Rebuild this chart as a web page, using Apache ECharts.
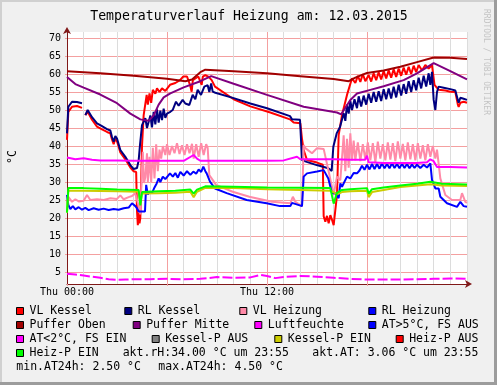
<!DOCTYPE html>
<html><head><meta charset="utf-8">
<script src="https://cdn.jsdelivr.net/npm/echarts@6/dist/echarts.min.js"></script>
<style>html,body{margin:0;padding:0;background:#f0f0f0}#c{width:497px;height:385px}</style>
</head><body><div id="c"></div>
<script>
// ---- data (hour of day, value) ----
const titleText = 'Temperaturverlauf Heizung am: 12.03.2015';
const yAxisTitle = '°C';
const xTickHours = [0, 12];
const xTickText = ['Thu 00:00', 'Thu 12:00'];

const vlKessel = [[0,41.7],[0.08,49.5],[0.3,50.9],[0.6,51.1],[0.9,50.6],[1.0,'-'],[1.1,48.6],[1.24,49.5],[1.5,47.3],[1.8,45.4],[2.1,44.6],[2.4,43.9],[2.6,43.5],[2.7,41.8],[2.8,40.5],[2.9,42.0],[3.0,41.3],[3.2,38.2],[3.5,36.3],[3.8,34.0],[4.0,33.0],[4.15,32.8],[4.2,22],[4.25,18],[4.3,21.5],[4.35,18.5],[4.4,20],[4.5,40],[4.6,48.6],[4.78,54.2],[4.85,51.5],[4.95,54.6],[5.05,52.0],[5.15,55.6],[5.3,54.5],[5.4,56.0],[5.55,55.0],[5.7,56.0],[5.9,55.3],[6.18,57.0],[6.5,57.5],[6.78,58.3],[6.98,59.3],[7.2,59.3],[7.38,57.0],[7.48,55.1],[7.55,58.3],[7.88,59.3],[8.08,57.0],[8.15,59.3],[8.3,59.7],[8.5,59.2],[8.68,58.3],[8.88,56.5],[10,53.0],[11,51.0],[12.2,49.3],[13.38,47.4],[13.6,46.5],[14.0,46.3],[14.1,42],[14.2,38.9],[14.4,36.1],[15.0,35.4],[15.35,34.8],[15.4,20.5],[15.5,19.0],[15.6,20.6],[15.7,18.5],[15.8,20.8],[15.9,19.5],[16.0,18.0],[16.1,18.3],[16.2,26.4],[16.3,43],[16.5,48.6],[16.8,54.2],[17.1,58.8],[17.3,57.5],[17.45,59.5],[17.6,57.8],[17.75,60.0],[17.9,58.0],[18.1,59.7],[18.25,57.9],[18.4,60.2],[18.55,58.3],[18.7,60.5],[18.85,58.5],[19.0,60.8],[19.15,58.8],[19.3,61.0],[19.45,59.0],[19.6,61.3],[19.75,59.2],[19.9,61.5],[20.05,59.5],[20.2,61.8],[20.35,59.8],[20.5,62.0],[20.65,60.0],[20.8,62.3],[20.95,60.5],[21.1,62.5],[21.3,61.0],[21.5,62.5],[21.7,61.5],[21.9,62.5],[22.05,57.0],[22.3,55.6],[22.7,55.4],[23.0,55.1],[23.3,55.0],[23.45,51.5],[23.5,50.9],[23.6,52.0],[23.8,52.3],[24,52.0]];

const rlKessel = [[0,43.5],[0.08,50.9],[0.3,52.3],[0.6,52.2],[0.9,51.9],[1.0,'-'],[1.1,48.6],[1.24,50.0],[1.5,48.0],[1.8,46.3],[2.1,45.5],[2.4,44.7],[2.6,44.3],[2.7,42.5],[2.8,41.2],[2.9,42.8],[3.0,42.1],[3.2,38.9],[3.5,37.0],[3.8,34.7],[4.0,33.6],[4.1,33.3],[4.2,33.9],[4.3,36],[4.38,40.3],[4.5,45.8],[4.7,47.7],[4.8,45],[4.9,44.9],[5.0,48.5],[5.1,45.2],[5.2,49.5],[5.3,46.0],[5.4,50.2],[5.5,46.5],[5.6,49.8],[5.7,47.2],[5.8,50.4],[5.9,47.8],[6.0,49.0],[6.2,49.5],[6.34,50.0],[6.54,52.3],[6.7,51.2],[6.94,52.8],[7.1,51.8],[7.34,51.4],[7.54,54.2],[7.7,53.0],[7.84,55.6],[8.04,54.2],[8.24,56.5],[8.44,56.9],[8.54,55.0],[8.65,57.4],[8.74,55.1],[8.9,54.8],[10,53.3],[11,51.8],[12,50.5],[13.38,48.3],[13.5,47.4],[13.98,47.3],[14.1,36.1],[14.38,35.6],[14.98,34.7],[15.68,33.8],[15.88,33.1],[15.98,39.8],[16.18,43.5],[16.38,45.3],[16.6,49.1],[16.7,47.0],[16.8,51.5],[16.9,49.0],[17.0,52.5],[17.1,50.0],[17.25,53.0],[17.4,50.5],[17.5,53.8],[17.65,51.0],[17.8,54.0],[17.95,51.5],[18.1,54.5],[18.25,52.0],[18.4,55.0],[18.55,52.3],[18.7,55.2],[18.85,52.5],[19.0,55.8],[19.15,53.0],[19.3,56.0],[19.45,53.2],[19.6,56.5],[19.75,53.5],[19.9,57.0],[20.05,54.0],[20.2,57.2],[20.35,54.5],[20.5,58.0],[20.65,55.0],[20.8,58.3],[20.95,55.5],[21.1,59.0],[21.25,56.0],[21.4,59.5],[21.55,56.5],[21.7,60.2],[21.8,57.0],[21.9,60.6],[22.0,52.8],[22.1,50.0],[22.2,55.0],[22.3,56.5],[22.6,56.2],[23.0,55.8],[23.3,55.4],[23.45,52.8],[23.5,52.0],[23.6,53.4],[23.75,53.2],[24,52.8]];

const vlHeizung = [[0,24.0],[0.08,25.9],[0.3,24.5],[0.5,25.2],[0.7,24.6],[1.0,24.8],[1.2,26.4],[1.4,25.0],[1.8,25.2],[2.2,25.0],[2.6,25.5],[3.0,25.3],[3.2,26.3],[3.4,25.2],[3.7,25.8],[3.9,26.1],[4.1,26.9],[4.3,23.3],[4.4,21],[4.5,33.8],[4.55,38.4],[4.62,29.7],[4.7,31.3],[4.8,38],[4.85,30],[4.95,37],[5.05,29.8],[5.15,39.5],[5.25,31],[5.35,40.5],[5.45,33],[5.55,39],[5.65,36.5],[5.75,40],[5.9,37.5],[6.0,40.5],[6.15,37.5],[6.3,40],[6.45,38],[6.6,40.8],[6.75,37.8],[6.9,40.2],[7.05,37.5],[7.2,40.5],[7.35,38],[7.5,40.6],[7.6,36.5],[7.75,40.5],[7.9,37.0],[8.05,40.8],[8.2,37.5],[8.35,40.5],[8.44,39.5],[8.54,31.9],[8.74,30.6],[8.94,29.2],[9.94,27.3],[10.94,25.9],[12.3,24.5],[13.4,24.1],[13.55,25.9],[13.7,24.5],[14.1,23.3],[14.2,40.3],[14.3,39.4],[14.7,38.0],[15.0,39.4],[15.4,39.2],[15.7,32.9],[16.0,26.4],[16.2,31.5],[16.4,30.5],[16.6,43.0],[16.7,33],[16.8,42],[16.9,34],[17.0,43.5],[17.1,36],[17.2,41.5],[17.3,36.0],[17.45,41.0],[17.6,35.8],[17.75,40.5],[17.9,36.2],[18.05,41.0],[18.2,36.0],[18.35,40.8],[18.5,35.5],[18.65,41.2],[18.8,36.5],[18.95,40.5],[19.1,36.0],[19.25,41.0],[19.4,36.2],[19.55,40.8],[19.7,35.8],[19.85,41.3],[20.0,36.5],[20.15,40.6],[20.3,36.0],[20.45,41.0],[20.6,36.3],[20.75,40.5],[20.9,36.0],[21.05,40.8],[21.2,36.5],[21.35,40.2],[21.5,36.0],[21.65,40.5],[21.8,37.0],[21.95,40.0],[22.1,36.5],[22.2,39],[22.4,31.0],[22.7,26.4],[23.1,25.0],[23.6,25.0],[23.7,26.9],[23.9,24.5],[24,24.2]];

const rlHeizung = [[0,26.4],[0.08,23.6],[0.2,22.5],[0.35,23.3],[0.5,22.4],[0.7,23.0],[0.9,22.3],[1.1,22.8],[1.3,22.2],[1.6,22.7],[1.9,22.3],[2.2,22.6],[2.5,22.2],[2.8,22.5],[3.1,22.3],[3.4,22.7],[3.7,22.9],[3.9,24.1],[4.1,23.3],[4.2,22.7],[4.3,21.8],[4.68,21.8],[4.75,29.2],[4.85,26.5],[4.95,27.3],[5.1,26.9],[5.25,28.5],[5.38,29.6],[5.5,31.0],[5.6,30.0],[5.75,31.5],[5.9,30.8],[6.18,32.4],[6.35,31.5],[6.5,32.5],[6.65,31.2],[6.8,32.8],[7.0,31.8],[7.2,33.0],[7.4,32.0],[7.58,32.9],[7.75,32.3],[7.9,33.5],[8.05,32.8],[8.18,34.3],[8.3,33.0],[8.38,32.4],[8.58,30.1],[8.88,28.2],[9.58,26.9],[10.78,25.0],[11.98,24.1],[12.78,23.3],[13.4,23.3],[13.5,24.2],[14.1,23.3],[14.2,31.5],[14.4,32.4],[15.0,32.9],[15.4,33.3],[15.68,31.0],[15.9,26.9],[16.1,26.9],[16.3,25.5],[16.4,29.6],[16.5,28.7],[16.8,31.5],[17.0,31.0],[17.2,32.5],[17.4,32.4],[17.55,33.2],[17.7,34.5],[17.85,33.4],[18.0,34.8],[18.15,33.5],[18.3,35.0],[18.45,33.6],[18.6,35.0],[18.75,33.7],[18.9,35.2],[19.05,33.8],[19.2,35.0],[19.35,33.8],[19.5,35.2],[19.65,33.9],[19.8,35.0],[19.95,33.8],[20.1,35.1],[20.25,33.9],[20.4,35.0],[20.55,33.8],[20.7,34.9],[20.85,33.9],[21.0,34.8],[21.2,33.9],[21.4,34.8],[21.6,34.0],[21.8,35.2],[21.9,30.6],[22.1,28.2],[22.3,28.2],[22.4,25.9],[22.8,24.1],[23.4,23.1],[23.6,24.5],[23.8,23.3],[24,23.1]];

const pufferOben = [[0,60.8],[2,60.2],[4,59.5],[6,58.7],[7.1,58.0],[7.5,58.5],[8.0,60.5],[8.3,61.2],[10,60.8],[12,60.2],[14,59.4],[16,58.6],[16.9,58.0],[17.3,59.0],[18,60.3],[19,61.0],[20,62.0],[21,63.3],[22,64.6],[23,64.5],[24,64.2]];

const pufferMitte = [[0,59.2],[0.5,57.2],[1,56.2],[2,54.3],[3,51.9],[3.8,49.0],[4.4,47.4],[4.9,47.0],[5.2,48.5],[5.5,51.5],[5.8,53.5],[6.2,54.6],[7,56.3],[8,58.0],[8.65,59.4],[10,57.3],[12,54.2],[14.2,50.9],[16.2,49.3],[16.45,48.8],[17,52.8],[17.4,54.6],[18.2,55.6],[19,56.6],[20.2,58.3],[21,60.2],[22,63.0],[23,60.8],[24,58.5]];

const luftfeuchte = [[0,36.8],[0.5,36.3],[1,36.6],[1.5,36.2],[2,36.0],[3,36.0],[4,35.9],[5,35.9],[6,35.9],[7,35.9],[7.6,37.5],[7.8,36.5],[8,35.9],[10,35.9],[12,35.9],[13,36.0],[13.8,37.0],[14,36.3],[15,36.3],[16,36.3],[17,36.2],[17.9,36.2],[18.0,37.3],[18.1,35.5],[19,35.3],[20,35.3],[21,35.3],[21.6,35.5],[21.8,36.3],[22,35.8],[22.2,34.2],[23,34.2],[24,34.0]];

const aussenTemp = [[0,4.5],[0.5,4.3],[1,4.0],[1.5,3.7],[2,3.4],[2.5,3.0],[3,2.8],[3.5,2.9],[4,3.0],[5,3.0],[6,3.1],[7,3.0],[8,3.1],[8.5,3.3],[9,3.6],[10,3.4],[11,3.5],[11.6,4.2],[12,3.9],[12.5,3.3],[13,3.6],[14,3.9],[15,3.7],[16,3.4],[17,3.1],[18,2.9],[19,2.9],[20,2.9],[21,3.0],[22,3.1],[23,3.2],[24,3.1]];

const kesselPEin = [[0,21.5],[0.08,27.6],[1,27.6],[2,27.5],[3,27.4],[4.3,27.3],[4.4,24],[4.5,26.8],[5.5,26.9],[6.5,27.0],[7.4,27.3],[7.6,25.8],[7.8,27.3],[8.3,28.4],[10,28.3],[12,28.0],[14,27.8],[15.8,27.6],[16.2,26.6],[16.5,27.2],[17,27.4],[18,27.6],[18.1,25.8],[18.3,27.2],[19,27.8],[20,28.6],[21,29.0],[21.8,29.4],[22.5,29.0],[24,28.9]];

const heizPEin = [[0,21.5],[0.08,28.3],[1,28.3],[2,28.1],[3,27.9],[4.3,27.8],[4.4,23.5],[4.5,27.2],[5.5,27.4],[6.5,27.6],[7.4,27.9],[7.6,26.8],[7.8,27.9],[8.3,28.8],[10,28.7],[12,28.5],[14,28.4],[15.8,28.3],[16.0,24.0],[16.2,27.0],[16.5,27.8],[17,28.0],[18.0,28.3],[18.1,26.8],[18.3,28.0],[19,28.5],[20,29.0],[21,29.5],[21.8,30.1],[22.5,29.5],[24,29.3]];

const legendNames = [['VL Kessel','RL Kessel','VL Heizung','RL Heizung'],['Puffer Oben','Puffer Mitte','Luftfeuchte','AT>5°C, FS AUS'],['AT<2°C, FS EIN','Kessel-P AUS','Kessel-P EIN','Heiz-P AUS'],['Heiz-P EIN']];
const legendColors = [['#ff0000','#000080','#ff8aa8','#0000ff'],['#a00000','#800080','#ff00ff','#0000ff'],['#ff00ff','#808080','#cccc00','#ff0000'],['#00ff00']];
const statusTexts = [['akt.rH:34.00 °C um 23:55','akt.AT: 3.06 °C um 23:55'],['min.AT24h: 2.50 °C','max.AT24h: 4.50 °C']];
const watermark = 'RRDTOOL / TOBI OETIKER';

// ---- layout ----
const MONO = 'DejaVu Sans Mono';
const legendRowY = [311, 325, 339, 353, 367];
const legendSwatchX = [[16,124.3,239.3,368.3],[16,132.7,254.3,368.3],[16,151.7,274.3,395.7],[16]];
const statusX = [[122.7,312.3],[16.3,158.3]];
const PINK = '#f4a0a0';
const AXIS = '#801818';

const graphic = [];
// frame
graphic.push({type:'rect',shape:{x:0,y:0,width:497,height:2},style:{fill:'#d0d0d0'},silent:true});
graphic.push({type:'rect',shape:{x:0,y:0,width:2,height:385},style:{fill:'#d0d0d0'},silent:true});
graphic.push({type:'rect',shape:{x:494,y:0,width:3,height:385},style:{fill:'#9c9c9c'},silent:true});
graphic.push({type:'rect',shape:{x:0,y:382,width:497,height:3},style:{fill:'#9c9c9c'},silent:true});
// strip below the x axis (plot floor sits above the value 0 line)
graphic.push({type:'rect',z:1,shape:{x:60,y:284.5,width:410,height:7},style:{fill:'#f0f0f0'},silent:true});
graphic.push({type:'text',x:249,y:16.5,style:{text:titleText,font:'13.2px "'+MONO+'"',fill:'#000',align:'center',verticalAlign:'middle'},silent:true});
graphic.push({type:'text',x:13.5,y:157,rotation:Math.PI/2,style:{text:yAxisTitle,font:'11.5px "'+MONO+'"',fill:'#000',align:'center',verticalAlign:'middle'},silent:true});
graphic.push({type:'text',x:486.5,y:62,rotation:-Math.PI/2,style:{text:watermark,font:'8px "'+MONO+'"',fill:'#c4c4c4',align:'center',verticalAlign:'middle'},silent:true});
legendNames.forEach((row, r) => {
  row.forEach((name, c) => {
    const sx = legendSwatchX[r][c];
    const y = legendRowY[r];
    graphic.push({type:'rect',shape:{x:sx+0.5,y:y-3.5,width:7,height:7},style:{fill:legendColors[r][c],stroke:'#000',lineWidth:1},silent:true});
    graphic.push({type:'text',x:sx+13.5,y:y,style:{text:name,font:'11.5px "'+MONO+'"',fill:'#000',align:'left',verticalAlign:'middle'},silent:true});
  });
});
statusTexts.forEach((row, r) => {
  row.forEach((t, c) => {
    graphic.push({type:'text',x:statusX[r][c],y:legendRowY[3+r],style:{text:t,font:'11.5px "'+MONO+'"',fill:'#000',align:'left',verticalAlign:'middle'},silent:true});
  });
});

function line(name, data, color, extra) {
  return Object.assign({name, type:'line', data, showSymbol:false, symbol:'none', animation:false,
    lineStyle:{color, width:2}, itemStyle:{color}, connectNulls:false, z:3}, extra||{});
}

const option = {
  animation:false,
  backgroundColor:'#f0f0f0',
  grid:{left:67, top:32, width:400, height:258, show:true, backgroundColor:'#ffffff', borderWidth:0},
  xAxis:[{
    type:'value', min:0, max:24, interval:1,
    axisLine:{show:false}, axisTick:{show:false}, axisLabel:{show:false},
    splitLine:{show:true, lineStyle:{color:'#dcdcdc', width:1}}
  },{
    type:'value', min:0, max:24, interval:6, position:'bottom',
    axisLine:{show:false}, axisLabel:{show:false}, axisTick:{show:false},
    splitLine:{show:true, showMinLine:false, showMaxLine:false, lineStyle:{color:PINK, width:1}}
  },{
    type:'value', min:0, max:24, interval:6, position:'bottom', offset:-6, z:5,
    axisLine:{show:true, onZero:false, lineStyle:{color:AXIS, width:1}, symbol:['none','arrow'], symbolSize:[6,7], symbolOffset:[0,5]},
    axisTick:{show:true, length:2, lineStyle:{color:PINK}},
    axisLabel:{show:true, margin:3, color:'#000', fontFamily:MONO, fontSize:10,
      formatter:(v)=>{const i = xTickHours.indexOf(v); return i>=0 ? xTickText[i] : '';}},
    splitLine:{show:false}
  }],
  yAxis:{
    type:'value', min:0, max:71.67, interval:5,
    axisLine:{show:true, lineStyle:{color:AXIS, width:1}, symbol:['none','arrow'], symbolSize:[6,7], symbolOffset:[0,5]},
    axisTick:{show:true, length:2, lineStyle:{color:PINK}},
    axisLabel:{show:true, margin:6, color:'#000', fontFamily:MONO, fontSize:10, showMaxLabel:false, showMinLabel:false},
    splitLine:{show:true, showMaxLine:false, showMinLine:false, lineStyle:{color:PINK, width:1}}
  },
  graphic,
  series:[
    line('VL Kessel', vlKessel, '#ff0000'),
    line('RL Kessel', rlKessel, '#000080'),
    line('VL Heizung', vlHeizung, '#ff8aa8'),
    line('RL Heizung', rlHeizung, '#0000ff'),
    line('Puffer Oben', pufferOben, '#a00000'),
    line('Puffer Mitte', pufferMitte, '#800080'),
    line('Luftfeuchte', luftfeuchte, '#ff00ff'),
    line('AT', aussenTemp, '#ff00ff', {lineStyle:{color:'#ff00ff', width:2, type:[10,3]}}),
    line('Kessel-P EIN', kesselPEin, '#cccc00'),
    line('Heiz-P EIN', heizPEin, '#00ff00')
  ]
};
const chart = echarts.init(document.getElementById('c'), null, {renderer:'canvas'});
chart.setOption(option);
</script></body></html>
